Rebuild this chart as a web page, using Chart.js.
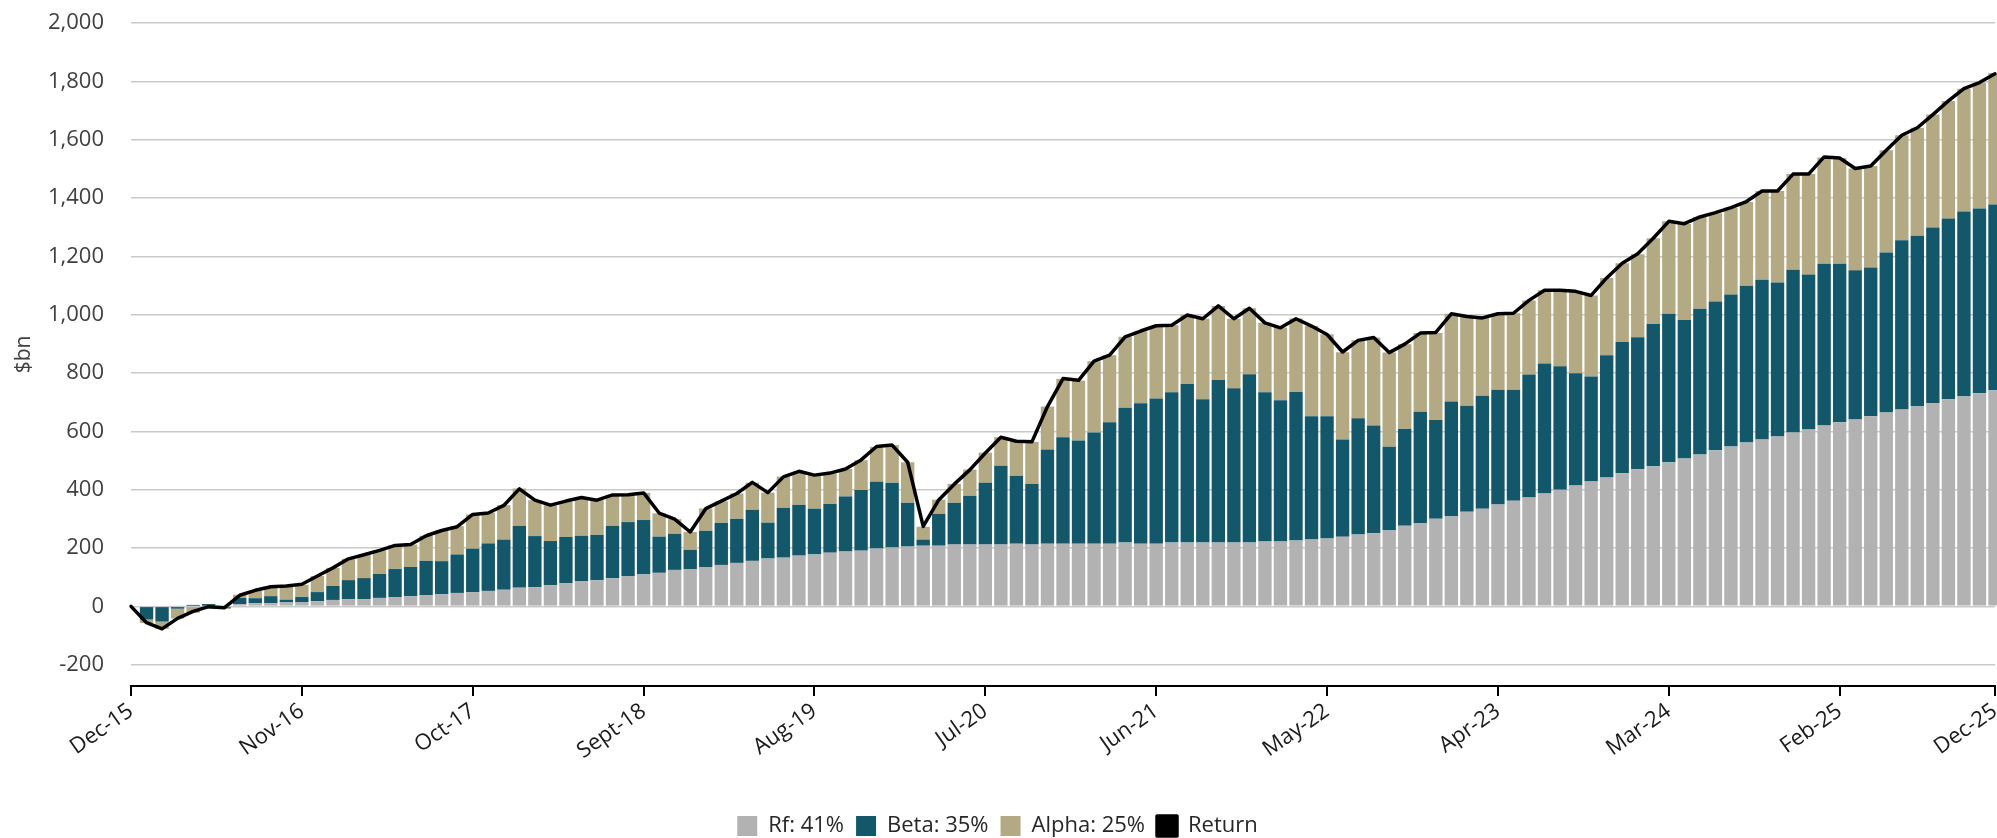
<!DOCTYPE html>
<html>
<head>
<meta charset="utf-8">
<script src="https://cdn.jsdelivr.net/npm/chart.js@4.4.1/dist/chart.umd.min.js"></script>
<style>
  html, body { margin: 0; padding: 0; background: #fff; }
</style>
</head>
<body>
<canvas id="chart" width="1997" height="838"></canvas>
<script>
// Monthly categories Dec-15 .. Dec-25 (121 points)
const monthNames = ['Jan', 'Feb', 'Mar', 'Apr', 'May', 'Jun', 'Jul', 'Aug', 'Sept', 'Oct', 'Nov', 'Dec'];
const months = [];
for (let i = 0; i <= 120; i++) {
  months.push(monthNames[(11 + i) % 12] + '-' + (15 + Math.floor((11 + i) / 12)));
}
// positions of the labelled ticks on the x axis
const xTickIndex = [0, 11, 22, 33, 44, 55, 66, 77, 88, 99, 110, 120];
const yTicks = [-200, 0, 200, 400, 600, 800, 1000, 1200, 1400, 1600, 1800, 2000];

// $bn
const rf = [
  0, 0, 0, 2, 2, 2, 3, 8, 11, 11,
  15, 15, 18, 22, 25, 25, 29, 32, 35, 39,
  42, 46, 49, 53, 57, 64, 66, 73, 80, 87,
  90, 97, 104, 111, 115, 125, 128, 135, 142, 149,
  156, 164, 167, 174, 178, 184, 188, 191, 198, 202,
  205, 208, 208, 212, 212, 212, 212, 215, 212, 215,
  215, 215, 215, 215, 219, 215, 215, 219, 219, 219,
  219, 219, 219, 222, 222, 226, 229, 233, 239, 246,
  251, 262, 276, 286, 300, 310, 324, 335, 349, 362,
  373, 387, 400, 414, 428, 442, 456, 470, 480, 494,
  507, 521, 535, 548, 562, 572, 582, 596, 606, 620,
  631, 641, 652, 665, 675, 687, 697, 710, 721, 731,
  741
];
const beta = [
  0, -45, -52, -8, 3, 6, -5, 21, 17, 24,
  8, 17, 31, 48, 65, 72, 82, 96, 100, 117,
  113, 132, 149, 163, 172, 212, 175, 151, 158, 155,
  155, 179, 185, 185, 124, 124, 66, 124, 144, 151,
  175, 123, 171, 174, 157, 167, 189, 208, 229, 222,
  150, 21, 109, 143, 167, 212, 270, 233, 208, 323,
  365, 354, 381, 416, 462, 481, 498, 515, 543, 491,
  557, 529, 577, 512, 485, 509, 423, 419, 333, 399,
  369, 285, 332, 381, 339, 392, 364, 387, 394, 381,
  422, 446, 423, 385, 360, 419, 450, 453, 488, 509,
  475, 499, 510, 521, 537, 548, 528, 558, 532, 555,
  544, 511, 510, 548, 580, 584, 602, 620, 633, 633,
  637
];
const alpha = [
  0, -12, -25, -34, -22, -9, -4, 11, 26, 31,
  47, 42, 55, 62, 73, 80, 81, 81, 77, 86,
  105, 97, 117, 105, 118, 128, 123, 123, 122, 131,
  119, 105, 94, 93, 80, 50, 61, 77, 74, 87,
  93, 103, 107, 113, 116, 104, 94, 102, 120, 129,
  139, 44, 49, 65, 90, 103, 98, 118, 144, 147,
  200, 205, 244, 230, 243, 247, 248, 230, 237, 276,
  254, 238, 226, 238, 249, 252, 309, 281, 299, 267,
  302, 323, 291, 270, 298, 301, 306, 267, 260, 262,
  254, 251, 261, 281, 278, 265, 270, 284, 294, 317,
  329, 315, 303, 298, 287, 304, 314, 328, 344, 364,
  362, 349, 348, 351, 360, 370, 387, 403, 421, 432,
  451
];
const totalReturn = [
  0, -56, -77, -41, -17, -1, -5, 38, 55, 67,
  70, 76, 104, 132, 163, 177, 192, 209, 212, 242,
  260, 273, 315, 320, 346, 403, 364, 347, 361, 373,
  364, 382, 383, 389, 320, 299, 255, 335, 361, 387,
  425, 390, 444, 463, 450, 457, 471, 502, 548, 553,
  494, 274, 365, 419, 468, 526, 580, 566, 564, 685,
  781, 775, 841, 861, 924, 944, 962, 964, 999, 986,
  1030, 986, 1022, 972, 955, 986, 961, 932, 872, 912,
  922, 870, 899, 937, 939, 1003, 994, 989, 1003, 1005,
  1049, 1084, 1084, 1080, 1066, 1126, 1176, 1209, 1262, 1320,
  1312, 1335, 1350, 1367, 1388, 1424, 1424, 1482, 1482, 1541,
  1537, 1501, 1510, 1564, 1615, 1641, 1686, 1733, 1775, 1796,
  1826
];

const FONT = 'Open Sans';

new Chart(document.getElementById('chart'), {
  type: 'bar',
  data: {
    labels: months,
    datasets: [
      { label: 'Rf: 41%', data: rf, backgroundColor: '#b2b2b2', stack: 'parts', order: 2, clip: false },
      { label: 'Beta: 35%', data: beta, backgroundColor: '#13576b', stack: 'parts', order: 2, clip: false },
      { label: 'Alpha: 25%', data: alpha, backgroundColor: '#b3a983', stack: 'parts', order: 2, clip: false },
      {
        type: 'line', label: 'Return', data: totalReturn, stack: 'ret', order: 1,
        borderColor: '#000', backgroundColor: '#000', borderWidth: 3.5,
        pointRadius: 0, tension: 0, borderJoinStyle: 'round', borderCapStyle: 'round'
      }
    ]
  },
  options: {
    responsive: false,
    animation: false,
    devicePixelRatio: 1,
    layout: { padding: { top: 23, right: 2, bottom: -9, left: 0 } },
    datasets: { bar: { categoryPercentage: 1, barPercentage: 0.86, borderWidth: 0 } },
    plugins: {
      tooltip: { enabled: false },
      title: { display: false },
      legend: {
        position: 'bottom',
        labels: {
          boxWidth: 20, boxHeight: 20, padding: 12,
          color: '#262626', font: { family: FONT, size: 22 },
          sort: (a, b) => a.datasetIndex - b.datasetIndex
        }
      }
    },
    scales: {
      x: {
        type: 'category',
        stacked: true,
        offset: false,
        grid: { display: true, offset: false, drawOnChartArea: false, drawTicks: true, tickLength: 10, color: '#000', lineWidth: 2 },
        border: { display: true, color: '#000', width: 2 },
        ticks: {
          autoSkip: false, minRotation: 35, maxRotation: 35, padding: 2,
          color: '#1a1a1a', font: { family: FONT, size: 22 }
        },
        afterBuildTicks: s => { s.ticks = xTickIndex.map(v => ({ value: v })); },
        afterFit: s => { s.paddingRight = 0; s.height = 117; }
      },
      y: {
        stacked: true,
        min: -273,
        max: 2000,
        grid: { color: '#c9c9c9', lineWidth: 1.5, drawTicks: false },
        border: { display: false },
        ticks: { padding: 27, color: '#404040', font: { family: FONT, size: 22 } },
        afterBuildTicks: s => { s.ticks = yTicks.map(v => ({ value: v })); },
        afterFit: s => { s.width = 131; s.paddingTop = 0; s.paddingBottom = 0; },
        title: {
          display: true, text: '$bn', color: '#404040',
          font: { family: FONT, size: 21 }, padding: { top: 11, bottom: 0 }
        }
      }
    }
  }
});
</script>
</body>
</html>
